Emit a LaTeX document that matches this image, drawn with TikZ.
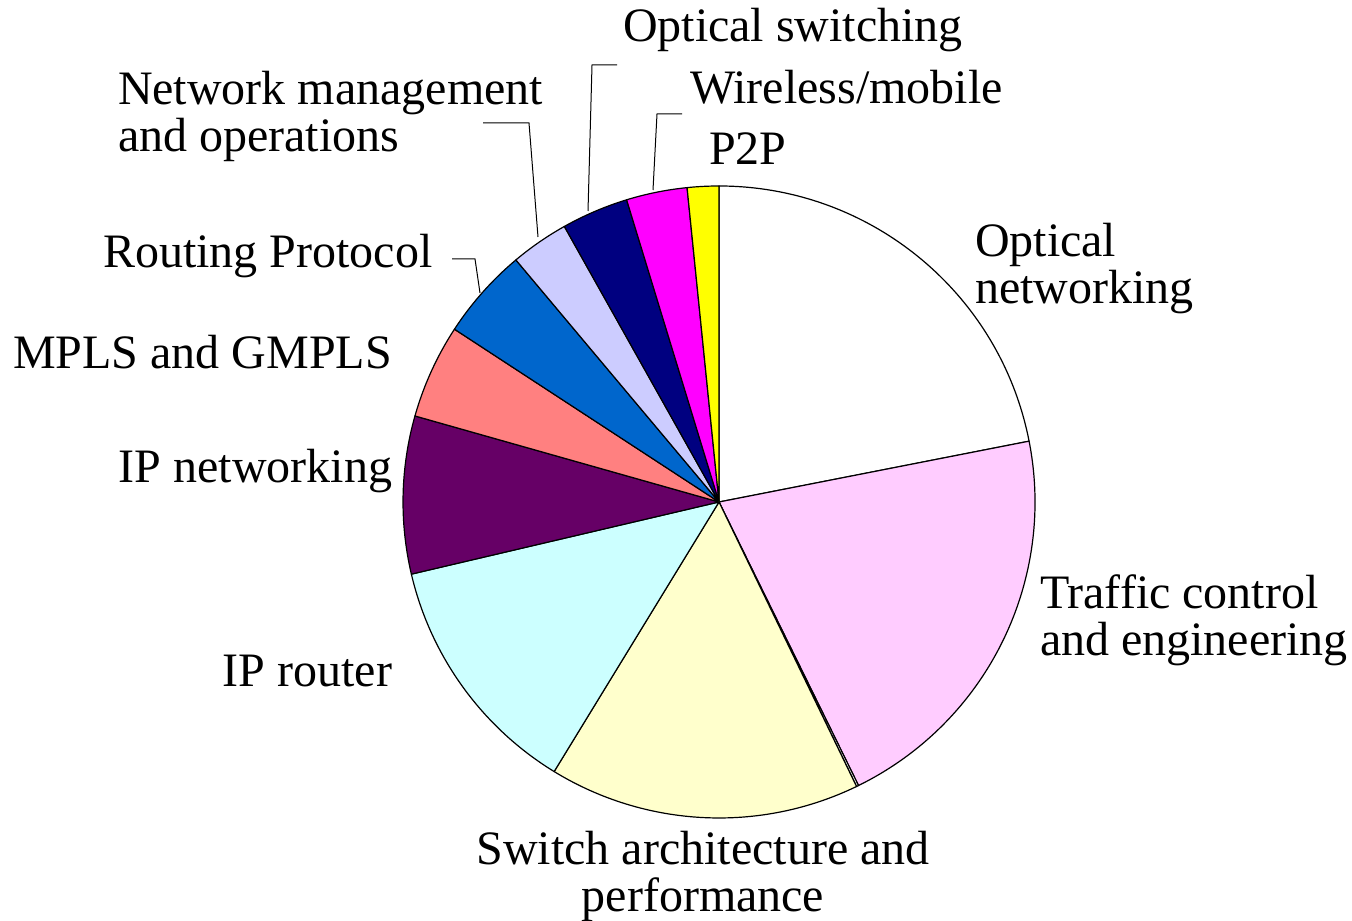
\documentclass[tikz,border=0pt]{standalone}
\usepackage{fontspec}
\setmainfont{Liberation Serif}
\definecolor{cPink}{HTML}{FFCCFF}
\definecolor{cCream}{HTML}{FFFFCC}
\definecolor{cCyan}{HTML}{CCFFFF}
\definecolor{cPlum}{HTML}{660066}
\definecolor{cSalmon}{HTML}{FF8080}
\definecolor{cBlue}{HTML}{0066CC}
\definecolor{cLav}{HTML}{CCCCFF}
\definecolor{cNavy}{HTML}{000080}
\definecolor{cMag}{HTML}{FF00FF}
\definecolor{cYel}{HTML}{FFFF00}
\tikzset{
  slice/.style={draw=black,line width=0.6pt,line join=round},
  leader/.style={draw=black,line width=0.5pt},
  lbl/.style={inner sep=0pt,outer sep=0pt,font=\fontsize{24}{23.5}\selectfont},
}
\newcommand{\pieslice}[4]{%
  \filldraw[slice,fill=#1] (C) -- ++(#2:316) arc[start angle=#2,end angle=#3,radius=316] -- cycle;}
\begin{document}
\begin{tikzpicture}[x=0.5pt,y=0.5pt]
\useasboundingbox (0,0) rectangle (1352,920);
\coordinate (C) at (719,418);
% slices
\pieslice{white}{11.1}{90}{}
\pieslice{cPink}{-63.8}{11.1}{}
\pieslice{white}{-64.2}{-63.8}{}
\pieslice{cCream}{-121.45}{-64.2}{}
\pieslice{cCyan}{-166.8}{-121.45}{}
\pieslice{cPlum}{164.2}{193.2}{}
\pieslice{cSalmon}{146.85}{164.2}{}
\pieslice{cBlue}{130}{146.85}{}
\pieslice{cLav}{119.3}{130}{}
\pieslice{cNavy}{107}{119.3}{}
\pieslice{cMag}{95.8}{107}{}
\pieslice{cYel}{90}{95.8}{}
% leader coordinates
\coordinate (rpA) at (452,661);
\coordinate (rpB) at (475,661);
\coordinate (rpC) at (480,627);
\coordinate (nmA) at (483,797);
\coordinate (nmB) at (529,797);
\coordinate (nmC) at (538,683);
\coordinate (osA) at (617,855);
\coordinate (osB) at (592,855);
\coordinate (osC) at (588,709);
\coordinate (wmA) at (682,806);
\coordinate (wmB) at (657,806);
\coordinate (wmC) at (653,730);
\draw[leader] (rpA) -- (rpB) -- (rpC);
\draw[leader] (nmA) -- (nmB) -- (nmC);
\draw[leader] (osA) -- (osB) -- (osC);
\draw[leader] (wmA) -- (wmB) -- (wmC);
% labels
\node[lbl,anchor=base west] (os) at (623,878) {Optical switching};
\node[lbl,anchor=base west] (wm) at (690,816) {Wireless/mobile};
\node[lbl,anchor=base west] (p2p) at (709,755) {P2P};
\node[lbl,anchor=base west,align=left] (nm) at (118,768) {Network management\\and operations};
\node[lbl,anchor=base west] (rp) at (103,652) {Routing Protocol};
\node[lbl,anchor=base west] (mp) at (13,551) {MPLS and GMPLS};
\node[lbl,anchor=base east] (ipn) at (392,437) {IP networking};
\node[lbl,anchor=base east] (ipr) at (392,233) {IP router};
\node[lbl,anchor=base,align=center] (sw) at (703,9) {Switch architecture and\\performance};
\node[lbl,anchor=base west,align=left] (tc) at (1040,264) {Traffic control\\and engineering};
\node[lbl,anchor=base west,align=left] (on) at (975,616) {Optical\\networking};
\end{tikzpicture}
\end{document}
